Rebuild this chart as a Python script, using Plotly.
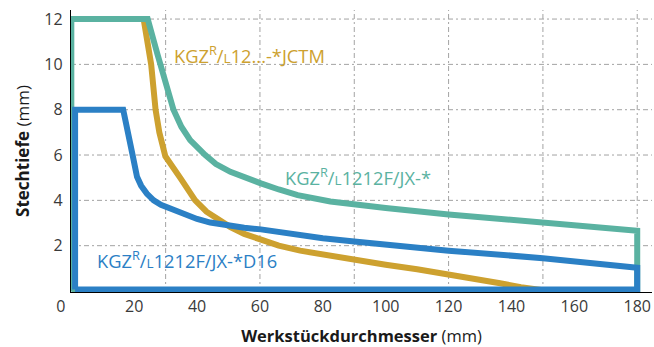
import plotly.graph_objects as go

# ---------------- data ----------------
x_tick_vals = [0, 20, 40, 60, 80, 100, 120, 140, 160, 180]
x_tick_text = ["0\u2007\u2007\u2009", "20", "40", "60", "80", "100", "120", "140", "160", "180"]
y_tick_vals = [2, 4, 6, 8, 10, 12]
x_grid_vals = [30, 60, 90, 120, 150, 180]

teal_x = [0, 0, 24.3, 25.3, 26.3, 27.4, 28.3, 30.0, 32.5, 35.0, 37.8, 42.6, 46.0, 50.6, 55.0,
          60.3, 66.0, 72.0, 82.4, 90.0, 100.0, 120.0, 140.0, 160.0, 180.0, 180.0, 0]
teal_y = [0, 12, 12, 11.6, 11.0, 10.45, 10.0, 9.2, 8.0, 7.25, 6.66, 6.0, 5.6, 5.26, 5.0,
          4.75, 4.48, 4.23, 3.95, 3.8, 3.66, 3.38, 3.15, 2.9, 2.66, 0, 0]

gold_x = [23.0, 24.0, 24.8, 25.4, 26.1, 26.8, 28.0, 29.9, 34.7, 39.4, 43.0, 47.4, 50.6, 55.0,
          60.3, 66.0, 72.8, 80.0, 90.0, 100.0, 110.0, 120.0, 130.0, 136.4, 143.0, 150.0]
gold_y = [12.0, 11.2, 10.5, 10.0, 9.0, 8.0, 7.0, 5.95, 4.98, 4.0, 3.5, 3.1, 2.82, 2.52,
          2.25, 2.0, 1.78, 1.6, 1.37, 1.16, 0.96, 0.75, 0.52, 0.34, 0.17, 0.03]

blue_x = [1.2, 1.2, 16.5, 17.4, 18.4, 19.5, 20.9, 22.2, 24.0, 26.2, 28.5, 32.5, 36.0, 40.0,
          44.2, 50.0, 55.0, 60.3, 66.0, 72.8, 80.0, 90.0, 100.0, 120.0, 150.0, 180.0, 180.0, 1.2]
blue_y = [0.07, 8.0, 8.0, 7.3, 6.6, 6.0, 5.04, 4.65, 4.3, 4.0, 3.8, 3.57, 3.36, 3.18,
          3.02, 2.88, 2.79, 2.72, 2.6, 2.47, 2.33, 2.18, 2.03, 1.78, 1.45, 1.03, 0.07, 0.07]

TEAL = "#5AB2A1"
GOLD = "#CDA12F"
BLUE = "#2B80C5"
FONT = "Open Sans"

fig = go.Figure()
for xs, ys, col in [(gold_x, gold_y, GOLD), (teal_x, teal_y, TEAL), (blue_x, blue_y, BLUE)]:
    fig.add_trace(go.Scatter(x=xs, y=ys, mode="lines", line=dict(color=col, width=6),
                             cliponaxis=False, hoverinfo="skip", showlegend=False))

XR = [-0.1, 184.7]
YR = [-0.044, 12.4]
GRID = "#A3A3A3"
DASH = "5px,3px,2px,3px"

# dashed grid (vertical every 30 mm, horizontal at the y ticks)
for gx in x_grid_vals:
    fig.add_vline(x=gx, line=dict(color=GRID, width=1, dash=DASH), layer="below")
for gy in y_tick_vals:
    fig.add_hline(y=gy, line=dict(color=GRID, width=1, dash=DASH), layer="below")

fig.update_layout(
    template="none",
    width=654, height=347,
    margin=dict(l=71, r=2, t=10, b=55),
    paper_bgcolor="white", plot_bgcolor="white",
    font=dict(family=FONT, color="#333333"),
    xaxis=dict(
        range=XR, autorange=False, tickmode="array", tickvals=x_tick_vals, ticktext=x_tick_text,
        showgrid=False, zeroline=False, showline=True, linecolor="black", linewidth=1.3,
        ticks="", tickfont=dict(size=16, color="#3a3a3a"),
        automargin=False,
        title=dict(text="<b>Werkstückdurchmesser</b> (mm)",
                   font=dict(size=16.5, color="#1a1a1a"), standoff=19),
    ),
    yaxis=dict(
        range=YR, autorange=False, tickmode="array", tickvals=y_tick_vals,
        showgrid=False, zeroline=False, showline=True, linecolor="black", linewidth=1.3,
        ticks="", tickfont=dict(size=16, color="#3a3a3a"), ticklabelstandoff=4,
        automargin=False,
        title=dict(text="<b>Stechtiefe</b> (mm)", font=dict(size=17, color="#1a1a1a"), standoff=10),
    ),
    annotations=[
        dict(x=32.1, y=10.45, xref="x", yref="y", xanchor="left", yanchor="middle", showarrow=False,
             text="KGZ<sup>R</sup>/<span style='font-size:13.5px'>L</span>12...-*JCTM",
             font=dict(family=FONT, size=18.3, color=GOLD)),
        dict(x=67.3, y=5.05, xref="x", yref="y", xanchor="left", yanchor="middle", showarrow=False,
             text="KGZ<sup>R</sup>/<span style='font-size:13.5px'>L</span>1212F/JX-*",
             font=dict(family=FONT, size=18.3, color=TEAL)),
        dict(x=7.6, y=1.37, xref="x", yref="y", xanchor="left", yanchor="middle", showarrow=False,
             text="KGZ<sup>R</sup>/<span style='font-size:13.5px'>L</span>1212F/JX-*D16",
             font=dict(family=FONT, size=18.3, color=BLUE)),
    ],
)

fig.write_html("out.html", config={"displayModeBar": False},
               post_script="document.body.style.margin='0px';")
